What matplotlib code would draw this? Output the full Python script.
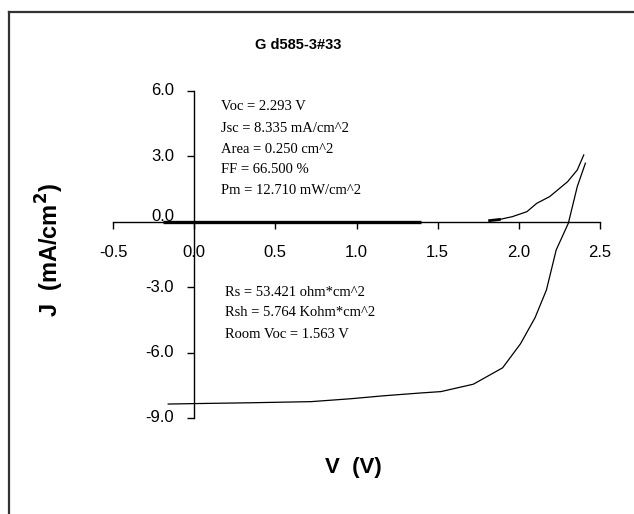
import numpy as np
import matplotlib
matplotlib.use("Agg")
import matplotlib.pyplot as plt
from matplotlib.lines import Line2D

# I-V data (V in volts, J in mA/cm^2)
light_v = [-0.16, 0.0, 0.36, 0.72, 0.96, 1.17, 1.40, 1.52, 1.72, 1.90, 2.01, 2.10, 2.17, 2.23, 2.305, 2.36, 2.41]
light_j = [-8.36, -8.34, -8.30, -8.25, -8.12, -7.98, -7.85, -7.79, -7.45, -6.70, -5.60, -4.40, -3.13, -1.30, -0.07, 1.61, 2.68]

dark_flat_v = [-0.19, 1.40]
dark_flat_j = [0.0, 0.0]
dark_v = [1.82, 1.88, 1.96, 2.05, 2.11, 2.19, 2.30, 2.36, 2.40]
dark_j = [0.05, 0.10, 0.23, 0.46, 0.84, 1.15, 1.83, 2.37, 3.06]

x_ticks = [-0.5, 0.0, 0.5, 1.0, 1.5, 2.0, 2.5]
y_ticks = [-9.0, -6.0, -3.0, 0.0, 3.0, 6.0]

title = "G d585-3#33"
info_top = ["Voc = 2.293 V", "Jsc = 8.335 mA/cm^2", "Area = 0.250 cm^2",
            "FF = 66.500 %", "Pm = 12.710 mW/cm^2"]
info_bottom = ["Rs = 53.421 ohm*cm^2", "Rsh = 5.764 Kohm*cm^2", "Room Voc = 1.563 V"]

W, H = 634, 514
fig = plt.figure(figsize=(W / 100, H / 100), dpi=100)

def fx(px):
    return px / W

def fy(py):
    return 1 - py / H

ax = fig.add_axes([fx(113), fy(418), fx(600) - fx(113), fy(90.8) - fy(418)])
ax.set_xlim(-0.5, 2.5)
ax.set_ylim(-9, 6)

ax.plot(light_v, light_j, color="black", lw=0.9)
ax.plot(dark_flat_v, dark_flat_j, color="black", lw=2.4, solid_capstyle="butt")
ax.plot(dark_v, dark_j, color="black", lw=0.9)
ax.plot(dark_v[:2], dark_j[:2], color="black", lw=2.0)

ax.spines["left"].set_position(("data", 0))
ax.spines["bottom"].set_position(("data", 0))
ax.spines["top"].set_visible(False)
ax.spines["right"].set_visible(False)
for s in ["left", "bottom"]:
    ax.spines[s].set_linewidth(1.0)

ax.set_xticks(x_ticks)
ax.set_yticks(y_ticks)
ax.set_xticklabels([])
ax.set_yticklabels([])
ax.tick_params(direction="out", length=5, width=1.0)

tick_font = dict(family="Liberation Sans", fontsize=12)
for v in x_ticks:
    ax.annotate(f"{v:.1f}", xy=(v, 0), xycoords="data", xytext=(0, -22), textcoords="offset points",
                ha="center", va="center", **tick_font)
for v in y_ticks:
    dy = 4 if v == 0 else 0
    ax.annotate(f"{v:.1f}", xy=(0, v), xycoords="data", xytext=(-14.4, dy), textcoords="offset points",
                ha="right", va="center", **tick_font)

fig.text(fx(298), fy(45), title, ha="center", va="center", family="Liberation Sans",
         fontsize=10.5, fontweight="bold")
fig.text(fx(353), fy(467), "V  (V)", ha="center", va="center", family="Liberation Sans",
         fontsize=16, fontweight="bold")
fig.text(fx(50), fy(250), "J  (mA/cm$^\\mathbf{2}$)", ha="center", va="center", rotation=90,
         family="Liberation Sans", fontsize=17, fontweight="bold")

for i, line in enumerate(info_top):
    fig.text(fx(221), fy(107 + 21 * i), line, ha="left", va="center",
             family="Liberation Serif", fontsize=10.5)
for i, line in enumerate(info_bottom):
    fig.text(fx(225), fy(292 + 21 * i), line, ha="left", va="center",
             family="Liberation Serif", fontsize=10.5)

fig.add_artist(Line2D([fx(8.5), 1.0], [fy(11.5), fy(11.5)], color="#333333", lw=1.6))
fig.add_artist(Line2D([fx(8.5), fx(8.5)], [fy(11.5), 0.0], color="#333333", lw=1.6))

fig.savefig("out.png", dpi=100)
